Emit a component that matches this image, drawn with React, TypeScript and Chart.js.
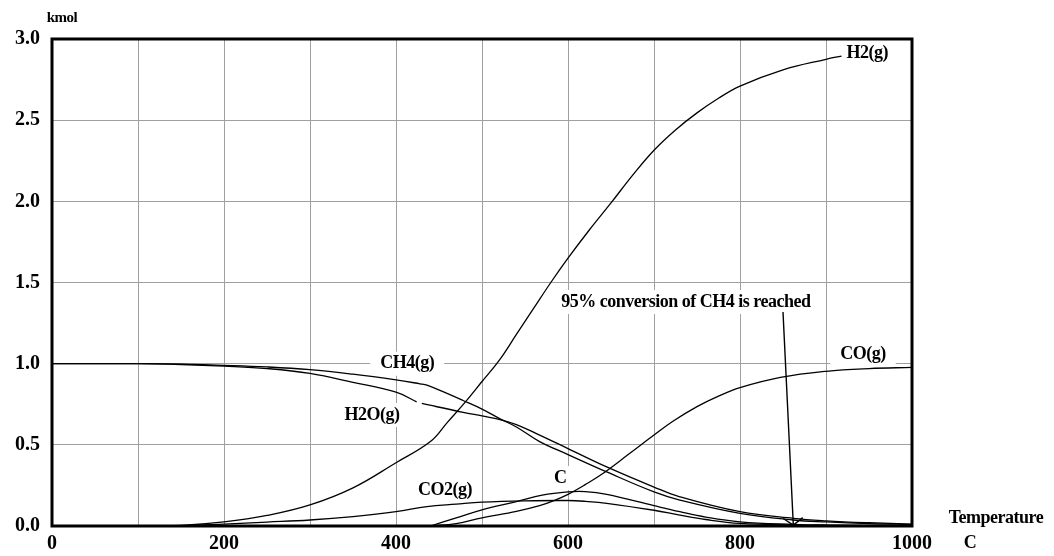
import React, { useEffect, useRef } from 'react';
import { Chart, registerables } from 'chart.js';

Chart.register(...registerables);

// ---------------- data (temperature in C, amount in kmol) ----------------
const h2Temp = [0, 100, 150, 200, 250, 300, 350, 400, 440, 460, 480, 500, 520, 540, 560, 580, 600, 625, 650, 675, 700, 725, 750, 775, 800, 850, 900, 918];
const h2Kmol = [0, 0, 0.004, 0.025, 0.065, 0.13, 0.235, 0.39, 0.52, 0.64, 0.76, 0.89, 1.02, 1.18, 1.34, 1.5, 1.65, 1.825, 1.99, 2.16, 2.315, 2.44, 2.545, 2.635, 2.71, 2.81, 2.875, 2.895];

const ch4Temp = [0, 100, 150, 200, 250, 300, 350, 400, 428, 436, 460, 478, 500, 521, 540, 567, 600, 645, 700, 730, 800, 862, 900, 950, 1000];
const ch4Kmol = [1, 1, 0.997, 0.99, 0.98, 0.963, 0.935, 0.9, 0.876, 0.868, 0.815, 0.773, 0.72, 0.66, 0.61, 0.52, 0.44, 0.333, 0.21, 0.16, 0.078, 0.037, 0.025, 0.015, 0.01];

const h2oTemp = [0, 100, 150, 200, 250, 300, 350, 400, 424, 427, 430, 478, 500, 521, 540, 567, 600, 645, 700, 730, 800, 862, 900, 950, 1000];
const h2oKmol = [1, 1, 0.995, 0.985, 0.97, 0.94, 0.885, 0.824, 0.765, null, 0.755, 0.7, 0.678, 0.656, 0.625, 0.56, 0.477, 0.364, 0.24, 0.18, 0.088, 0.047, 0.032, 0.02, 0.012];

const co2Temp = [0, 100, 150, 200, 250, 300, 350, 400, 436, 470, 500, 550, 600, 620, 645, 700, 730, 760, 800, 862, 900, 1000];
const co2Kmol = [0, 0, 0.002, 0.012, 0.024, 0.037, 0.058, 0.088, 0.12, 0.135, 0.147, 0.155, 0.157, 0.152, 0.14, 0.097, 0.067, 0.04, 0.016, 0.006, 0.004, 0.002];

const cTemp = [440, 470, 500, 540, 570, 600, 620, 645, 700, 730, 760, 800, 862, 900, 1000];
const cKmol = [0, 0.05, 0.1, 0.15, 0.19, 0.21, 0.212, 0.195, 0.125, 0.088, 0.055, 0.026, 0.01, 0.006, 0.003];

const coTemp = [440, 470, 500, 540, 567, 583, 600, 620, 641, 670, 700, 722, 750, 775, 800, 847, 900, 950, 1000];
const coKmol = [0, 0.015, 0.05, 0.09, 0.125, 0.155, 0.195, 0.255, 0.325, 0.44, 0.56, 0.645, 0.735, 0.8, 0.852, 0.915, 0.953, 0.97, 0.977];

const xTickLabels = ['0', '200', '400', '600', '800', '1000'];
const yTickLabels = ['0.0', '0.5', '1.0', '1.5', '2.0', '2.5', '3.0'];

// curve labels (placed in data coordinates)
const curveLabelText = ['H2(g)', 'CO(g)', 'CH4(g)', 'H2O(g)', 'CO2(g)', 'C'];
const curveLabelX = [948, 943, 413, 372, 457, 591];
const curveLabelY = [2.91, 1.06, 1.0, 0.684, 0.222, 0.296];

const noteText = '95% conversion of CH4 is reached';
const noteAt = { x: 737, y: 1.38 };
const arrowFrom = { x: 850, y: 1.318 };
const arrowTo = { x: 862, y: 0.006 };

const FONT = '"Liberation Serif", "Times New Roman", serif';

function pts(t: number[], v: (number | null)[]) {
  return t.map((x, i) => ({ x, y: v[i] }));
}

function drawBoxedText(ctx: CanvasRenderingContext2D, text: string, cx: number, cy: number, size: number, padX: number) {
  ctx.font = `bold ${size}px ${FONT}`;
  (ctx as any).letterSpacing = '-0.5px';
  const w = ctx.measureText(text).width;
  ctx.fillStyle = '#ffffff';
  ctx.fillRect(cx - w / 2 - padX, cy - size / 2 - 3, w + padX * 2, size + 6);
  ctx.fillStyle = '#000000';
  ctx.textAlign = 'center';
  ctx.textBaseline = 'middle';
  ctx.fillText(text, cx, cy);
  (ctx as any).letterSpacing = '0px';
}

const framePlugin = {
  id: 'frameAndLabels',
  beforeDatasetsDraw(chart: any) {
    const { ctx, chartArea, scales } = chart;
    const { x, y } = scales;
    ctx.save();
    curveLabelText.forEach((t, i) => {
      drawBoxedText(ctx, t, x.getPixelForValue(curveLabelX[i]), y.getPixelForValue(curveLabelY[i]), 18, 10);
    });
    drawBoxedText(ctx, noteText, x.getPixelForValue(noteAt.x), y.getPixelForValue(noteAt.y), 18, 12);
    ctx.strokeStyle = '#000';
    ctx.lineWidth = 3;
    ctx.strokeRect(chartArea.left, chartArea.top, chartArea.right - chartArea.left, chartArea.bottom - chartArea.top);
    ctx.restore();
  },
  afterDatasetsDraw(chart: any) {
    const { ctx, chartArea, scales } = chart;
    const { x, y } = scales;
    ctx.save();
    const x1 = x.getPixelForValue(arrowFrom.x), y1 = y.getPixelForValue(arrowFrom.y);
    const x2 = x.getPixelForValue(arrowTo.x), y2 = y.getPixelForValue(arrowTo.y);
    ctx.strokeStyle = '#000';
    ctx.lineWidth = 1.4;
    ctx.beginPath();
    ctx.moveTo(x1, y1);
    ctx.lineTo(x2, y2);
    const ang = Math.atan2(y1 - y2, x1 - x2);
    const hl = 12, ha = 0.95;
    ctx.moveTo(x2 + hl * Math.cos(ang - ha), y2 + hl * Math.sin(ang - ha));
    ctx.lineTo(x2, y2);
    ctx.lineTo(x2 + hl * Math.cos(ang + ha), y2 + hl * Math.sin(ang + ha));
    ctx.stroke();
    ctx.fillStyle = '#000';
    ctx.textAlign = 'center';
    ctx.textBaseline = 'middle';
    ctx.font = `bold 15px ${FONT}`;
    (ctx as any).letterSpacing = '-0.5px';
    ctx.fillText('kmol', chartArea.left + 10, chartArea.top - 21);
    ctx.font = `bold 18px ${FONT}`;
    ctx.fillText('Temperature', chartArea.right + 84, chartArea.bottom - 8);
    ctx.fillText('C', chartArea.right + 58, chartArea.bottom + 17);
    (ctx as any).letterSpacing = '0px';
    ctx.restore();
  },
};

export default function App() {
  const ref = useRef<HTMLCanvasElement | null>(null);
  useEffect(() => {
    if (!ref.current) return;
    const line = (data: any) => ({
      data,
      borderColor: '#000000',
      borderWidth: 1.3,
      pointRadius: 0,
      fill: false,
      tension: 0.4,
      spanGaps: false,
    });
    const chart = new Chart(ref.current, {
      type: 'line',
      data: {
        datasets: [
          { label: 'H2(g)', ...line(pts(h2Temp, h2Kmol)) },
          { label: 'CH4(g)', ...line(pts(ch4Temp, ch4Kmol)) },
          { label: 'H2O(g)', ...line(pts(h2oTemp, h2oKmol)) },
          { label: 'CO2(g)', ...line(pts(co2Temp, co2Kmol)) },
          { label: 'C', ...line(pts(cTemp, cKmol)) },
          { label: 'CO(g)', ...line(pts(coTemp, coKmol)) },
        ],
      },
      options: {
        responsive: false,
        animation: false,
        devicePixelRatio: 1,
        layout: { padding: { left: 0, top: 39, right: 142, bottom: 0 } },
        plugins: { legend: { display: false }, tooltip: { enabled: false } },
        scales: {
          x: {
            type: 'linear',
            min: 0,
            max: 1000,
            afterFit(s: any) { s.height = 30; },
            grid: { color: '#a0a0a0', lineWidth: 1, drawTicks: false },
            border: { display: false },
            ticks: {
              stepSize: 100,
              autoSkip: false,
              maxRotation: 0,
              padding: 6,
              color: '#000',
              font: { family: FONT, size: 20, weight: 'bold' },
              callback: (v: any) => {
                const s = String(v);
                return xTickLabels.includes(s) ? s : '';
              },
            },
          },
          y: {
            type: 'linear',
            min: 0,
            max: 3,
            afterFit(s: any) { s.width = 52; },
            grid: { color: '#a0a0a0', lineWidth: 1, drawTicks: false },
            border: { display: false },
            ticks: {
              stepSize: 0.5,
              padding: 12,
              color: '#000',
              font: { family: FONT, size: 20, weight: 'bold' },
              callback: (v: any) => yTickLabels[Math.round(Number(v) / 0.5)] ?? '',
            },
          },
        },
      },
      plugins: [framePlugin],
    });
    return () => chart.destroy();
  }, []);
  return (
    <div style={{ position: 'absolute', left: 0, top: 0, width: 1054, height: 556 }}>
      <canvas ref={ref} width={1054} height={556} style={{ display: 'block' }} />
    </div>
  );
}
